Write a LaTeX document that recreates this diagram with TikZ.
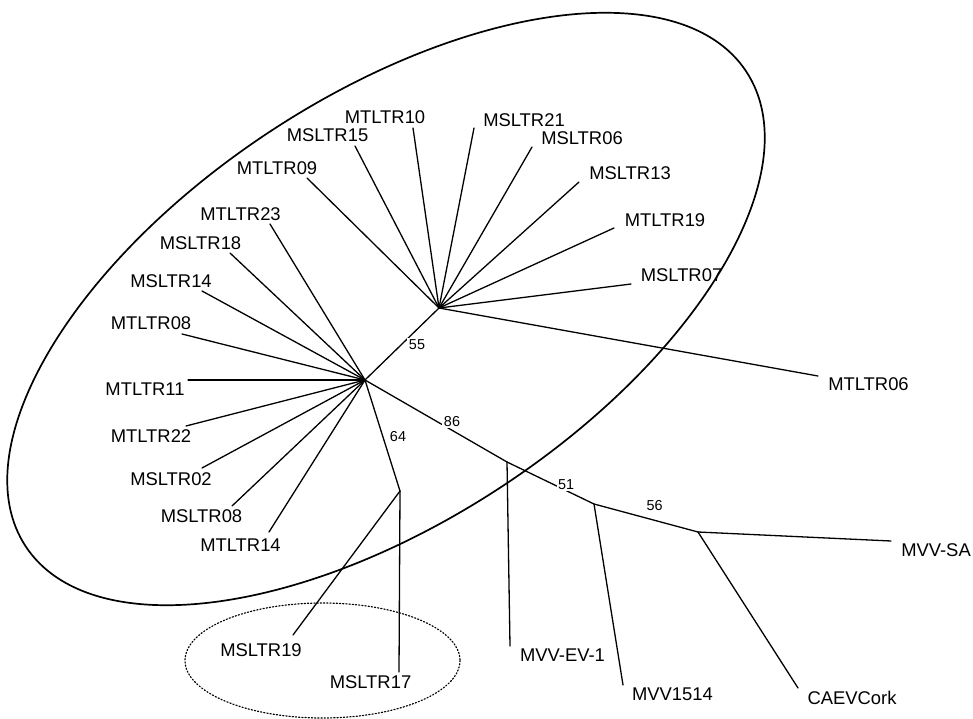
\documentclass[tikz,border=0pt]{standalone}
\usepackage{fontspec}
\setmainfont{Liberation Sans}
\begin{document}
\begin{tikzpicture}[x=1pt,y=-1pt,
  branch/.style={line width=1.3pt, line cap=round},
  taxon/.style={font=\fontsize{18.4}{22}\selectfont, inner sep=0pt},
  boot/.style={font=\fontsize{14.4}{17}\selectfont, inner sep=1.5pt, fill=white},
  clade/.style={line width=1.7pt},
  subclade/.style={line width=1.2pt, dash pattern=on 1.2pt off 2pt, line cap=round}]
\useasboundingbox (0,0) rectangle (973,719);

% clade outlines
\draw[clade, rotate around={33.4:(386,309)}] (386,309) ellipse [x radius=431.5, y radius=212];
\draw[subclade] (322.5,660.5) ellipse [x radius=137.5, y radius=57.5];

% internal nodes
\coordinate (A) at (439,308);
\coordinate (B) at (365,380);
\coordinate (C) at (400,491);
\coordinate (D) at (507,462);
\coordinate (E) at (594,504);
\coordinate (F) at (698,532);

% branch tips
\coordinate (tMT09) at (307,178);
\coordinate (tMS15) at (355,146);
\coordinate (tMT10) at (413,128);
\coordinate (tMS21) at (474,128);
\coordinate (tMS06) at (532,147);
\coordinate (tMS13) at (579,182);
\coordinate (tMT19) at (614,228);
\coordinate (tMS07) at (631,284);
\coordinate (tMT06) at (818,376);
\coordinate (tMT23) at (270,224);
\coordinate (tMS18) at (230,253);
\coordinate (tMS14) at (202,291);
\coordinate (tMT08) at (182,334);
\coordinate (tMT11) at (188,380);
\coordinate (tMT22) at (186,426);
\coordinate (tMS02) at (202,468);
\coordinate (tMS08) at (232,506);
\coordinate (tMT14) at (269,532);
\coordinate (tMS19) at (293,635);
\coordinate (tMS17) at (399,672);
\coordinate (tEV1) at (510,646);
\coordinate (t1514) at (623,685);
\coordinate (tSA) at (891,541);
\coordinate (tCork) at (798,688);

% branches
\foreach \t in {tMT09,tMS15,tMT10,tMS21,tMS06,tMS13,tMT19,tMS07,tMT06}
  \draw[branch] (A) -- (\t);
\foreach \t in {tMT23,tMS18,tMS14,tMT08,tMT11,tMT22,tMS02,tMS08,tMT14}
  \draw[branch] (B) -- (\t);
\draw[branch] (B) -- (A);
\draw[branch] (B) -- (C);
\draw[branch] (C) -- (tMS19);
\draw[branch] (C) -- (tMS17);
\draw[branch] (B) -- (D);
\draw[branch] (D) -- (tEV1);
\draw[branch] (D) -- (E);
\draw[branch] (E) -- (t1514);
\draw[branch] (E) -- (F);
\draw[branch] (F) -- (tSA);
\draw[branch] (F) -- (tCork);

% taxon labels
\node[taxon] (MT09) at (277,168) {MTLTR09};
\node[taxon] (MS15) at (327.5,135) {MSLTR15};
\node[taxon] (MT10) at (385,117.5) {MTLTR10};
\node[taxon] (MS21) at (524,120) {MSLTR21};
\node[taxon] (MS06) at (582,138) {MSLTR06};
\node[taxon] (MS13) at (630,173) {MSLTR13};
\node[taxon] (MT19) at (665,220) {MTLTR19};
\node[taxon] (MS07) at (681.5,275) {MSLTR07};
\node[taxon] (MT06) at (868.5,384.5) {MTLTR06};
\node[taxon] (MT23) at (240.5,214) {MTLTR23};
\node[taxon] (MS18) at (200.5,243) {MSLTR18};
\node[taxon] (MS14) at (171,281) {MSLTR14};
\node[taxon] (MT08) at (151,323.5) {MTLTR08};
\node[taxon] (MT11) at (145,389) {MTLTR11};
\node[taxon] (MT22) at (151,436) {MTLTR22};
\node[taxon] (MS02) at (171,479) {MSLTR02};
\node[taxon] (MS08) at (201.5,516) {MSLTR08};
\node[taxon] (MT14) at (240.5,545) {MTLTR14};
\node[taxon] (MS19) at (261,650) {MSLTR19};
\node[taxon] (MS17) at (370.5,682) {MSLTR17};
\node[taxon] (EV1) at (562.5,655) {MVV-EV-1};
\node[taxon] (V1514) at (672.5,694) {MVV1514};
\node[taxon] (SA) at (936,550) {MVV-SA};
\node[taxon] (Cork) at (852,697.5) {CAEVCork};

% bootstrap values
\node[boot] (b55) at (417,345) {55};
\node[boot] (b64) at (398,436.5) {64};
\node[boot] (b86) at (452,421.5) {86};
\node[boot] (b51) at (566,484.5) {51};
\node[boot] (b56) at (654.5,505.5) {56};
\end{tikzpicture}
\end{document}
